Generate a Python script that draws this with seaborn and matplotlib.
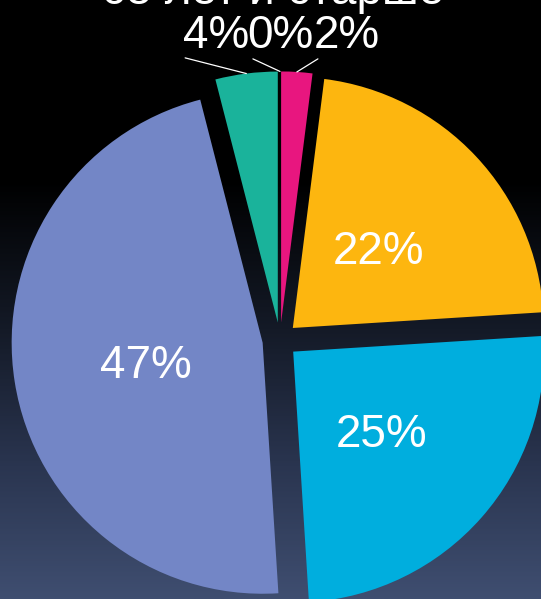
import numpy as np
import matplotlib
matplotlib.use("Agg")
import matplotlib.pyplot as plt
from matplotlib.colors import LinearSegmentedColormap
import seaborn as sns

# Age-group shares (clockwise from 12 o'clock)
shares = [2, 22, 25, 47, 4, 0]
colors = ["#E8167F", "#FDB60F", "#00AEDE", "#7386C6", "#1AB39B", "#1AB39B"]
title_text = "65 лет и старше"
# slices that get an outside label with a leader line
outside = [4, 5, 0]

sns.set_theme(style="white")
plt.rcParams["font.family"] = ["Liberation Sans", "DejaVu Sans"]

W, H, DPI = 541, 599, 100
fig = plt.figure(figsize=(W / DPI, H / DPI), dpi=DPI)

# dark vertical gradient background
bg = fig.add_axes([0, 0, 1, 1])
bg.set_axis_off()
grad_cmap = LinearSegmentedColormap.from_list(
    "night", [(0.0, "#000000"), (0.30, "#000000"), (0.55, "#141a27"),
              (0.78, "#2a3550"), (1.0, "#3f4e70")])
grad = np.linspace(0, 1, 400).reshape(-1, 1)
bg.imshow(grad, aspect="auto", cmap=grad_cmap, extent=[0, 1, 1, 0])
bg.set_xlim(0, 1)
bg.set_ylim(1, 0)

ax = fig.add_axes([0, 0, 1, 1])
ax.set_facecolor("none")

palette = sns.color_palette(colors)
wedges, _ = ax.pie(shares, colors=palette, startangle=90, counterclock=False,
                   explode=[0.07] * len(shares), radius=1.0,
                   wedgeprops=dict(linewidth=0))

# pixel layout: pie centre and pixels per unit radius
scale = 251.0
cx, cy = 280.0, 340.0
ax.set_xlim(-cx / scale, (W - cx) / scale)
ax.set_ylim(-(H - cy) / scale, cy / scale)
ax.set_aspect("equal", adjustable="box")
ax.set_axis_off()

label_font = 33

# inside labels for the large slices
for i, (w, v) in enumerate(zip(wedges, shares)):
    if i in outside:
        continue
    mid = np.deg2rad((w.theta1 + w.theta2) / 2)
    x0, y0 = w.center
    d = 0.47 * w.r
    ax.text(x0 + d * np.cos(mid), y0 + d * np.sin(mid), f"{v}%",
            ha="center", va="center_baseline", color="white",
            fontsize=label_font)

# outside labels for the thin slices at the top
text_x = {4: -0.255, 5: 0.0, 0: 0.267}
line_start = {4: (-0.378, 1.124), 5: (-0.108, 1.120), 0: (0.151, 1.120)}
for i in outside:
    w = wedges[i]
    mid = np.deg2rad((w.theta1 + w.theta2) / 2)
    x0, y0 = w.center
    edge = (x0 + w.r * np.cos(mid), y0 + w.r * np.sin(mid))
    ax.annotate("", xy=edge, xytext=line_start[i],
                arrowprops=dict(arrowstyle="-", color="white", lw=0.9,
                                shrinkA=0, shrinkB=0))
    ax.text(text_x[i], 1.163, f"{shares[i]}%", ha="center", va="baseline",
            color="white", fontsize=label_font)

ax.text(-0.03, 1.339, title_text, ha="center", va="baseline",
        color="white", fontsize=label_font, clip_on=False)

fig.savefig("out.png", dpi=DPI)
